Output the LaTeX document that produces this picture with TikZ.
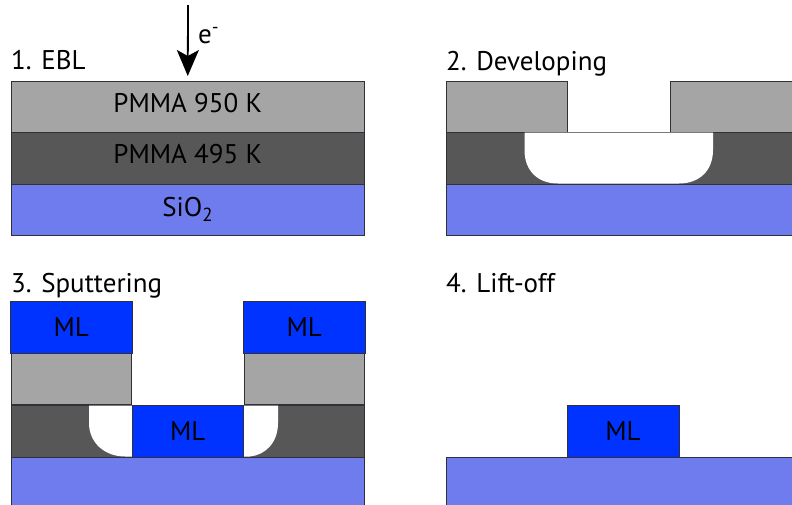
\documentclass[tikz,border=0pt]{standalone}
\usepackage{fontspec}
\setmainfont{PT Sans}
\usetikzlibrary{arrows.meta, calc}

\definecolor{pmmalight}{HTML}{A5A5A5}
\definecolor{pmmadark}{HTML}{575757}
\definecolor{oxide}{HTML}{6E7CEE}
\definecolor{metal}{HTML}{0033FF}
\definecolor{edge}{HTML}{303038}

\tikzset{
    layer/.style={draw=edge, line width=0.9pt, inner sep=0pt, outer sep=0pt, text=black, font=\fontsize{27}{29}\selectfont},
    topresist/.style={layer, fill=pmmalight, minimum height=51pt},
    botresist/.style={layer, fill=pmmadark, minimum height=52pt},
    substrate/.style={layer, fill=oxide, minimum height=51pt},
    mlayer/.style={layer, fill=metal, minimum height=52pt},
    steptitle/.style={anchor=base west, inner sep=0pt, font=\fontsize{27}{29}\selectfont}
}

\begin{document}
\begin{tikzpicture}[x=1pt, y=-1pt]
    \useasboundingbox (0, 0) rectangle (792, 504);

    % 1. EBL
    \node[steptitle] (titleone) at (11, 69) {1. EBL};
    \node[topresist, minimum width=353.5pt, text depth=8pt] (topone) at (187.75, 106.5) {PMMA 950 K};
    \node[botresist, minimum width=353.5pt, text depth=8pt] (botone) at (187.75, 158) {PMMA 495 K};
    \node[substrate, minimum width=353.5pt] (subone) at (187.75, 209.5) {SiO\textsubscript{2}};

    \coordinate (beam) at (188, 5);
    \draw[line width=1.8pt, -{Stealth[length=26pt, width=22pt, inset=6pt]}, shorten >=5pt] (beam) -- (topone.north);
    \node[inner sep=0pt, anchor=base west, font=\fontsize{27}{29}\selectfont] (beamlabel) at (198, 43) {e\textsuperscript{-}};

    % 2. Developing
    \node[steptitle] (titletwo) at (446, 70) {2. Developing};
    \node[botresist, minimum width=348pt] (bottwo) at (620, 158) {};
    \node[substrate, minimum width=348pt] (subtwo) at (620, 209.5) {};
    \node[topresist, minimum width=121.5pt] (toptwoa) at (506.75, 106.5) {};
    \node[topresist, minimum width=124pt] (toptwob) at (732, 106.5) {};
    \fill[white] (524.5, 132.5) -- (524.5, 150) .. controls (524.5, 171) and (538, 183.5) .. (558, 183.5)
        -- (679, 183.5) .. controls (699, 183.5) and (713, 171) .. (713, 150) -- (713, 132.5) -- cycle;

    % 3. Sputtering
    \node[steptitle] (titlethree) at (11, 292) {3. Sputtering};
    \node[substrate, minimum width=353.5pt, minimum height=60pt] (subthree) at (187.75, 487) {};
    \node[botresist, minimum width=353.5pt] (botthree) at (187.75, 431) {};
    \node[topresist, minimum width=120.5pt] (topthreea) at (71.25, 379) {};
    \node[topresist, minimum width=120.5pt] (topthreeb) at (304.25, 379) {};
    \fill[white] (89, 405.5) -- (89, 423) .. controls (89, 443) and (105, 456.5) .. (125, 456.5)
        -- (250, 456.5) .. controls (265, 455) and (278, 443) .. (278, 423) -- (278, 405.5) -- cycle;
    \node[mlayer, minimum width=121.5pt] (mlthreea) at (71.25, 327.5) {ML};
    \node[mlayer, minimum width=121.5pt] (mlthreeb) at (304.25, 327.5) {ML};
    \node[mlayer, minimum width=111.5pt] (mlthreec) at (187.75, 431) {ML};

    % 4. Lift-off
    \node[steptitle] (titlefour) at (446, 292) {4. Lift-off};
    \node[substrate, minimum width=348pt, minimum height=60pt] (subfour) at (620, 487) {};
    \node[mlayer, minimum width=112pt] (mlfour) at (623, 431) {ML};
\end{tikzpicture}
\end{document}
